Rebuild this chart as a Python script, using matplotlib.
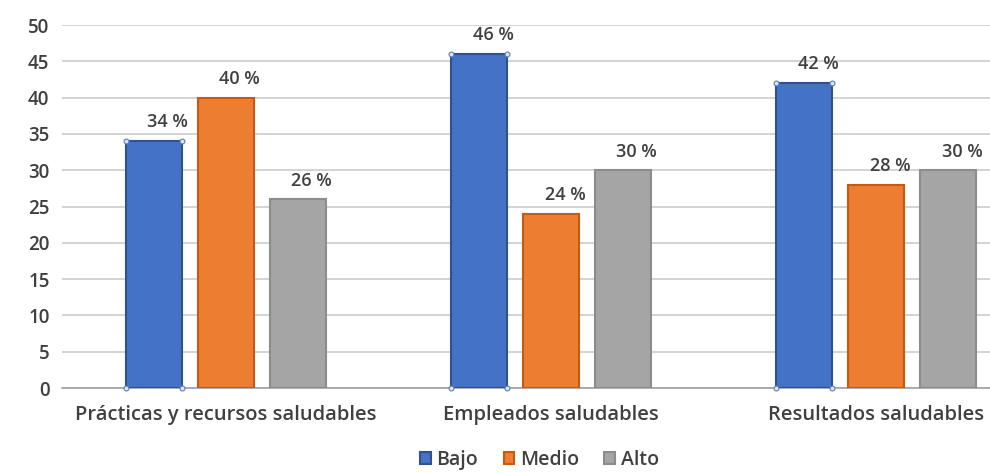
import matplotlib
matplotlib.use("Agg")
import matplotlib.pyplot as plt
import numpy as np

categories = ["Prácticas y recursos saludables", "Empleados saludables", "Resultados saludables"]
series_names = ["Bajo", "Medio", "Alto"]
bajo = [34, 46, 42]
medio = [40, 24, 28]
alto = [26, 30, 30]
y_ticks = [0, 5, 10, 15, 20, 25, 30, 35, 40, 45, 50]

colors = ["#4472C4", "#ED7D31", "#A5A5A5"]
edges = ["#2F528F", "#C55A11", "#8C8C8C"]
text_color = "#404040"

plt.rcParams["font.family"] = ["Open Sans", "DejaVu Sans"]

fig = plt.figure(figsize=(9.9, 4.73), dpi=100)
ax = fig.add_axes([0.0626, 0.1797, 0.9374, 0.7673])

x = np.arange(len(categories))
width = 0.172
step = 0.221

for i, (vals, name) in enumerate(zip([bajo, medio, alto], series_names)):
    pos = x + (i - 1) * step
    ax.bar(pos, vals, width, color=colors[i], edgecolor=edges[i],
           linewidth=1.5, label=name, zorder=3)
    for p, v in zip(pos, vals):
        ax.annotate(f"{v} %", (p, v), xytext=(10, 7), textcoords="offset points",
                    ha="center", va="bottom", fontsize=13, color=text_color,
                    fontweight="semibold")
    if i == 0:
        # selection handles at the corners of the blue bars
        for p, v in zip(pos, vals):
            ax.plot([p - width / 2, p + width / 2, p - width / 2, p + width / 2],
                    [v, v, 0, 0], "o", ms=3.5, mfc="#DCE6F2", mec="#5B7FB8",
                    mew=0.8, zorder=4, clip_on=False)

ax.set_ylim(0, 50)
ax.set_xlim(-0.504, 2.35)
ax.set_yticks(y_ticks)
ax.set_xticks(x)
ax.set_xticklabels(categories, fontsize=14.5, color=text_color, fontweight="semibold")
ax.tick_params(axis="y", labelsize=13.5, colors=text_color, length=0, pad=9)
for t in ax.get_yticklabels():
    t.set_fontweight("semibold")
ax.tick_params(axis="x", length=0, pad=12)
ax.grid(axis="y", color="#D0D0D0", linewidth=1.3, zorder=0)
for s in ["top", "right", "left"]:
    ax.spines[s].set_visible(False)
ax.spines["bottom"].set_color("#A0A0A0")
ax.spines["bottom"].set_linewidth(1.2)
ax.set_axisbelow(True)

leg = fig.legend(loc="lower center", bbox_to_anchor=(0.545, -0.03), ncol=3,
                 frameon=False, prop={"size": 14, "weight": "semibold"},
                 handlelength=0.55, handleheight=0.55,
                 handletextpad=0.3, columnspacing=1.3)
for t in leg.get_texts():
    t.set_color(text_color)

fig.savefig("out.png", dpi=100, facecolor="white")
